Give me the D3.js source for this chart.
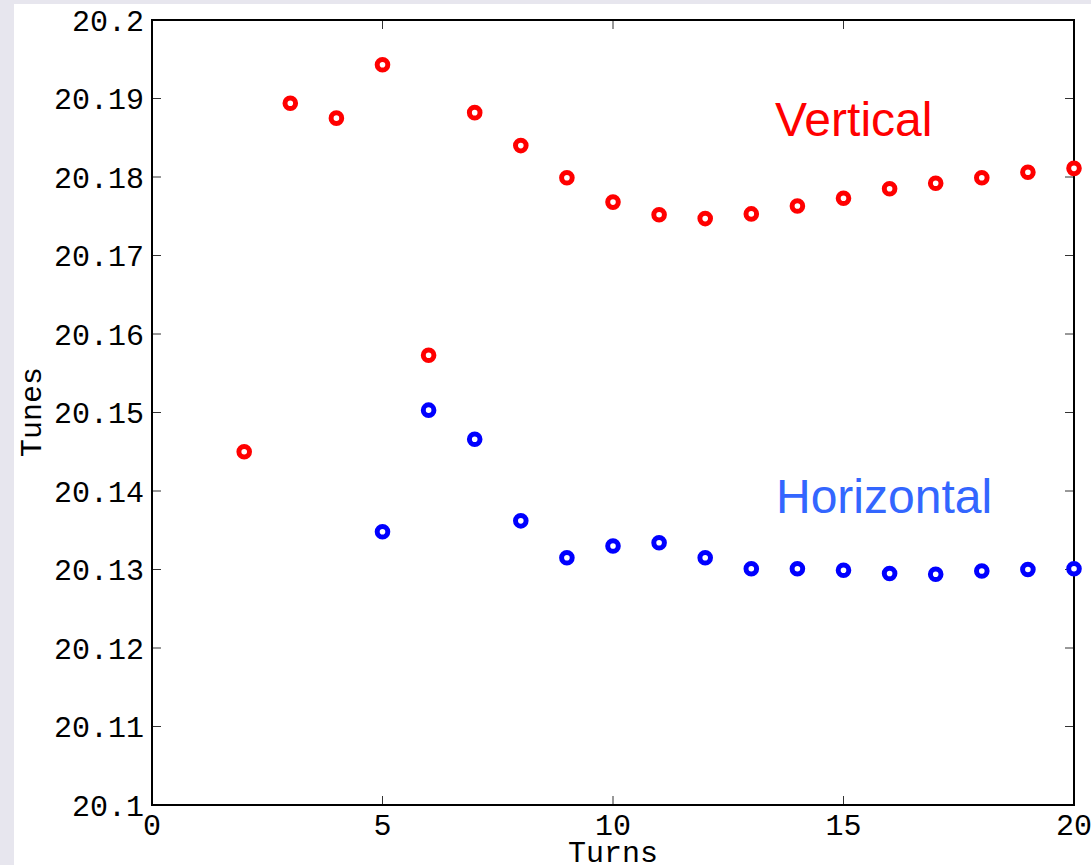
<!DOCTYPE html>
<html>
<head>
<meta charset="utf-8">
<script src="https://cdn.jsdelivr.net/npm/d3@7"></script>
<style>
  html, body { margin: 0; padding: 0; background: #e7e6ee; }
  svg { display: block; }
</style>
</head>
<body>
<svg id="chart" width="1091" height="865"></svg>
<script>
const turnsV = [2,3,4,5,6,7,8,9,10,11,12,13,14,15,16,17,18,19,20];
const tuneV  = [20.1450,20.1894,20.1875,20.1943,20.1573,20.1882,20.1840,20.1799,20.1768,20.1752,20.1747,20.1753,20.1763,20.1773,20.1785,20.1792,20.1799,20.1806,20.1811];
const turnsH = [5,6,7,8,9,10,11,12,13,14,15,16,17,18,19,20];
const tuneH  = [20.1348,20.1503,20.1466,20.1362,20.1315,20.1330,20.1334,20.1315,20.1301,20.1301,20.1299,20.1295,20.1294,20.1298,20.1300,20.1301];
const xTicks = [0,5,10,15,20];
const yTicks = [20.1,20.11,20.12,20.13,20.14,20.15,20.16,20.17,20.18,20.19,20.2];
const yTickLabels = ["20.1","20.11","20.12","20.13","20.14","20.15","20.16","20.17","20.18","20.19","20.2"];

(function(){
const svg = d3.select("#chart");
const W = 1091, H = 865;

svg.append("rect").attr("x",0).attr("y",0).attr("width",W).attr("height",H).attr("fill","#e7e6ee");
svg.append("rect").attr("x",14).attr("y",4).attr("width",W-14).attr("height",H-4).attr("fill","#ffffff");

const pL = 152, pR = 1074, pT = 20, pB = 805;
const x = d3.scaleLinear().domain([0,20]).range([pL,pR]);
const y = d3.scaleLinear().domain([20.1,20.2]).range([pB,pT]);

const monoFont = "'Liberation Mono','Courier New',monospace";

const tl = 9;
const tickG = svg.append("g").attr("stroke","#333").attr("stroke-width",1);
xTicks.forEach(t => {
  tickG.append("line").attr("x1",x(t)).attr("x2",x(t)).attr("y1",pB).attr("y2",pB-tl);
  tickG.append("line").attr("x1",x(t)).attr("x2",x(t)).attr("y1",pT).attr("y2",pT+tl);
});
yTicks.forEach(t => {
  tickG.append("line").attr("x1",pL).attr("x2",pL+tl).attr("y1",y(t)).attr("y2",y(t));
  tickG.append("line").attr("x1",pR).attr("x2",pR-tl).attr("y1",y(t)).attr("y2",y(t));
});

svg.append("rect").attr("x",pL).attr("y",pT).attr("width",pR-pL).attr("height",pB-pT)
  .attr("fill","none").attr("stroke","#000").attr("stroke-width",2);

svg.append("g").selectAll("text").data(xTicks).join("text")
  .attr("x",d=>x(d)).attr("y",pB+30)
  .attr("text-anchor","middle").attr("font-family",monoFont).attr("font-size",30).attr("fill","#000")
  .text(d=>d);
svg.append("g").selectAll("text").data(yTicks).join("text")
  .attr("x",pL-8).attr("y",d=>y(d)).attr("dy","0.35em")
  .attr("text-anchor","end").attr("font-family",monoFont).attr("font-size",30).attr("fill","#000")
  .text((d,i)=>yTickLabels[i]);

svg.append("text").attr("x",(pL+pR)/2).attr("y",862).attr("text-anchor","middle")
  .attr("font-family",monoFont).attr("font-size",30).attr("fill","#000").text("Turns");
svg.append("text").attr("transform","translate(41,412) rotate(-90)").attr("text-anchor","middle")
  .attr("font-family",monoFont).attr("font-size",30).attr("fill","#000").text("Tunes");

function ring(tx, ty, color){
  svg.append("g").selectAll("circle").data(tx.map((d,i)=>[d,ty[i]])).join("circle")
    .attr("cx",d=>x(d[0])).attr("cy",d=>y(d[1])).attr("r",5.3)
    .attr("fill","#fff").attr("stroke",color).attr("stroke-width",5);
}
ring(turnsV, tuneV, "#ff0000");
ring(turnsH, tuneH, "#0000ff");

svg.append("text").attr("x",775).attr("y",136).attr("font-family","'Liberation Sans',Arial,sans-serif")
  .attr("font-size",48).attr("fill","#ff0000").text("Vertical");
svg.append("text").attr("x",776).attr("y",513).attr("font-family","'Liberation Sans',Arial,sans-serif")
  .attr("font-size",48).attr("fill","#3366ff").text("Horizontal");
})();
</script>
</body>
</html>
